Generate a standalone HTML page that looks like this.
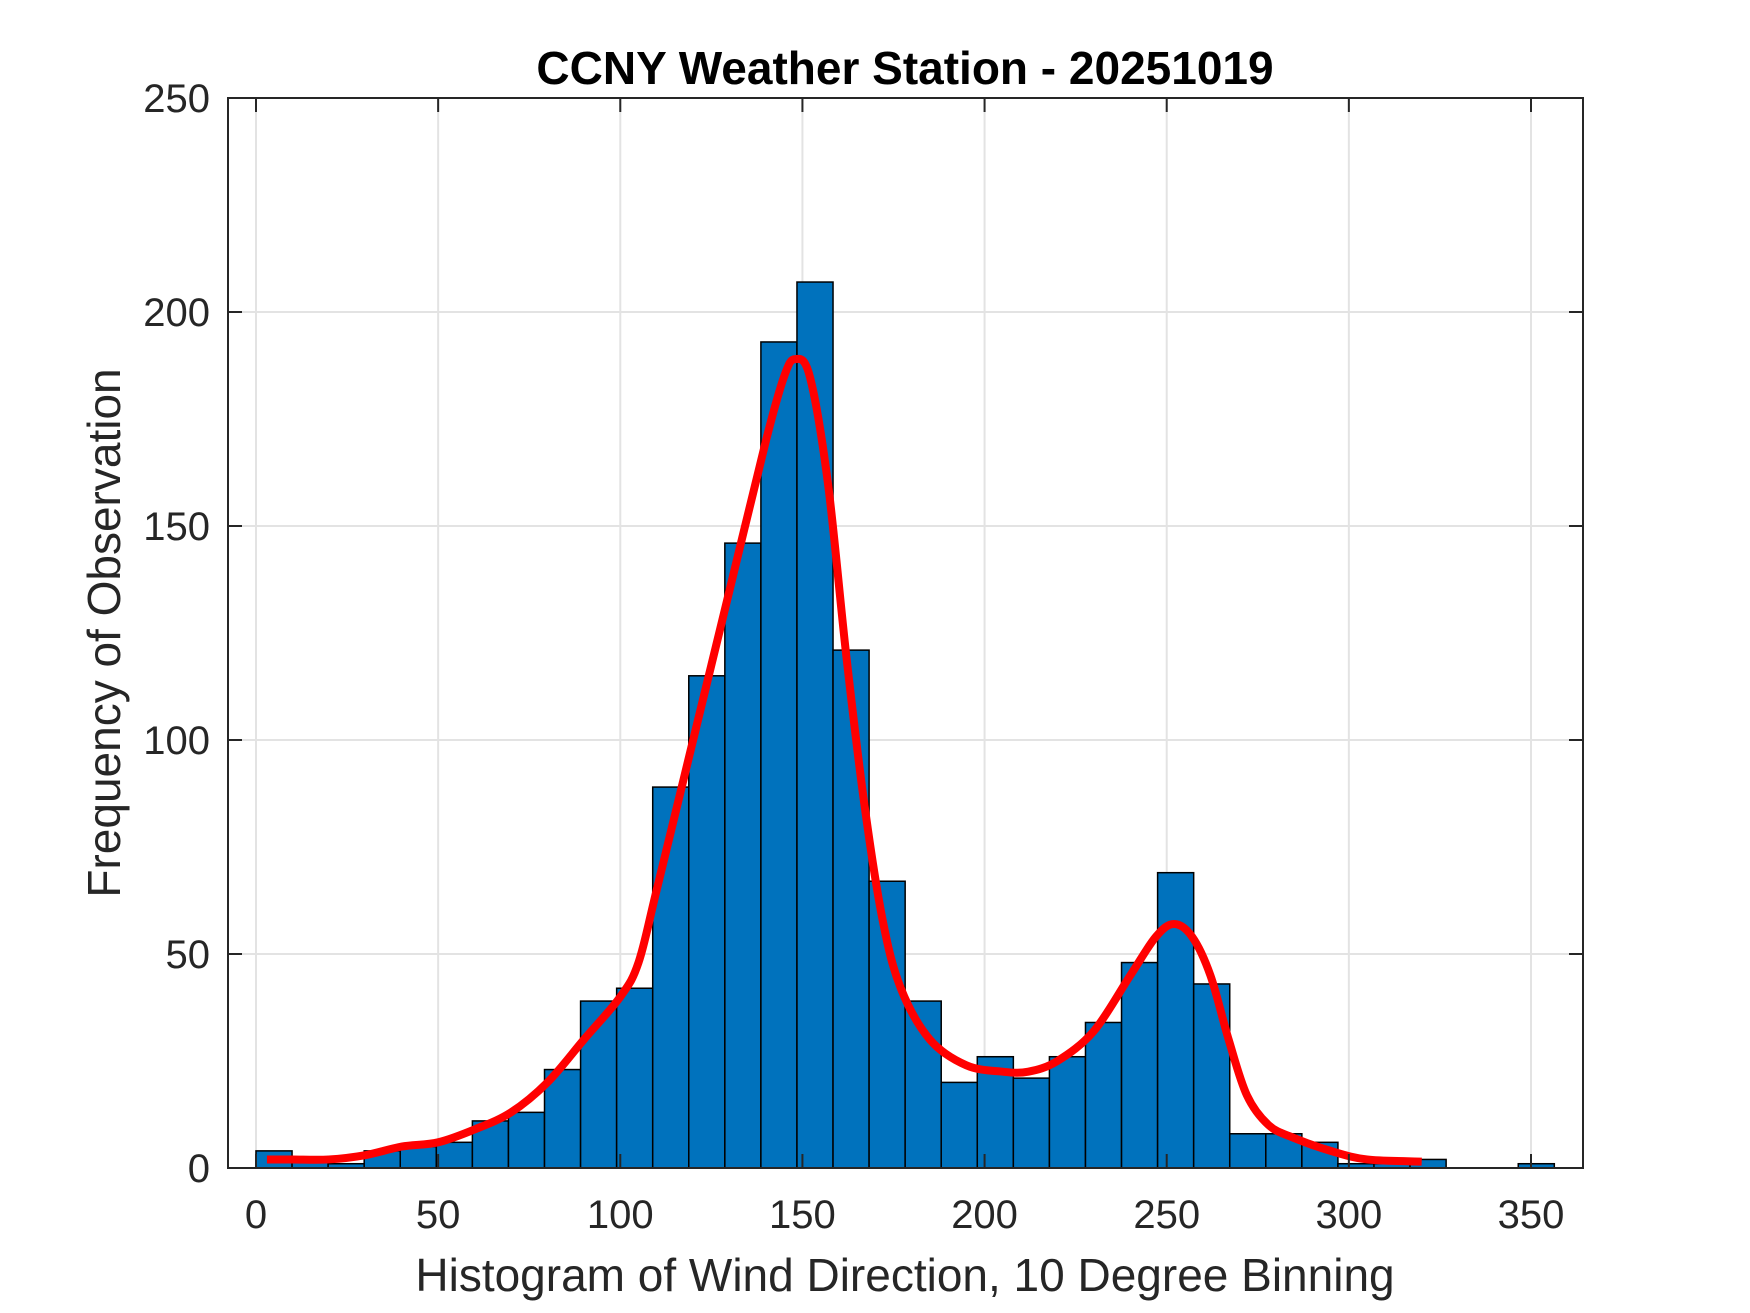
<!DOCTYPE html>
<html><head><meta charset="utf-8"><style>
body{margin:0;background:#fff}
svg{display:block}
text{font-family:"Liberation Sans",Arial,sans-serif;fill:#262626}
</style></head><body>
<svg id="chart" width="1750" height="1313" viewBox="0 0 1750 1313" xmlns="http://www.w3.org/2000/svg">
<rect width="1750" height="1313" fill="#fff"/>
<g id="grid"></g>
<g id="bars"></g>
<path id="curve" fill="none" stroke="#ff0000" stroke-width="8" stroke-linejoin="round" stroke-linecap="butt"/>
<rect x="228" y="98" width="1355" height="1070" fill="none" stroke="#262626" stroke-width="2"/>
<g id="ticks"></g>
<text x="905" y="84" text-anchor="middle" font-size="46" font-weight="bold" style="fill:#000">CCNY Weather Station - 20251019</text>
<text x="905" y="1291" text-anchor="middle" font-size="46">Histogram of Wind Direction, 10 Degree Binning</text>
<text x="120" y="633" text-anchor="middle" font-size="46" transform="rotate(-90 120 633)">Frequency of Observation</text>
</svg>
<script>
const binStarts=[0,9.9,19.8,29.7,39.6,49.5,59.4,69.3,79.2,89.1,99,108.9,118.8,128.7,138.6,148.5,158.4,168.3,178.2,188.1,198,207.9,217.8,227.7,237.6,247.5,257.4,267.3,277.2,287.1,297,306.9,316.8,326.7,336.6,346.5];
const counts=[4,2,1,4,5,6,11,13,23,39,42,89,115,146,193,207,121,67,39,20,26,21,26,34,48,69,43,8,8,6,1,1,2,0,0,1];
const curveX=[3,10,20,30,40,50,60,70,80,90,100,105,110,120,130,140,145,148,152,157,162,167,172,177,185,195,205,212,220,230,240,247,252,257,262,267,272,278,285,295,305,320];
const curveY=[2,2,2,3,5,6,9,13,20,30,40,48,65,100,135,170,185,189,185,160,120,85,58,42,30,24,22.5,22.5,25,32,45,54,57,54,45,30,17,10,7,4,2,1.5];
const xTicks=[0,50,100,150,200,250,300,350];
const yTicks=[0,50,100,150,200,250];
const binWidth=9.9;
const NS='http://www.w3.org/2000/svg';
const X0=228,X1=1583,Y0=1168,Y1=98;
function xs(v){return 256+v*(1531-256)/350;}
function ys(v){return Y0-v*(Y0-Y1)/250;}
function mk(tag,attrs,parent){const e=document.createElementNS(NS,tag);for(const k in attrs)e.setAttribute(k,attrs[k]);parent.appendChild(e);return e;}
const grid=document.getElementById('grid'),bars=document.getElementById('bars'),ticks=document.getElementById('ticks'),svg=document.getElementById('chart');
xTicks.forEach(t=>{
  const g=mk('line',{x1:xs(t),x2:xs(t),y1:Y1,y2:Y0,stroke:'#e3e3e3','stroke-width':2},grid);
  
  
  const a=mk('line',{x1:xs(t),x2:xs(t),y1:Y0,y2:Y0-14,stroke:'#262626','stroke-width':2},ticks);
  
  
  const b=mk('line',{x1:xs(t),x2:xs(t),y1:Y1,y2:Y1+14,stroke:'#262626','stroke-width':2},ticks);
  
  
  const l=mk('text',{x:xs(t),y:1228,'text-anchor':'middle','font-size':40},svg);
  l.textContent=t;
  
  
});
yTicks.forEach(t=>{
  const g=mk('line',{x1:X0,x2:X1,y1:ys(t),y2:ys(t),stroke:'#e3e3e3','stroke-width':2},grid);
  
  
  const a=mk('line',{x1:X0,x2:X0+14,y1:ys(t),y2:ys(t),stroke:'#262626','stroke-width':2},ticks);
  
  
  const b=mk('line',{x1:X1,x2:X1-14,y1:ys(t),y2:ys(t),stroke:'#262626','stroke-width':2},ticks);
  
  
  const l=mk('text',{x:210,y:ys(t)+14,'text-anchor':'end','font-size':40},svg);
  l.textContent=t;
  
  
});
binStarts.forEach((s,i)=>{
  const v=counts[i];if(v<=0)return;
  const r=mk('rect',{x:xs(s),y:ys(v),width:xs(s+binWidth)-xs(s),height:ys(0)-ys(v),fill:'#0072BD',stroke:'#000','stroke-width':1.5},bars);
  
  
});
const pts=curveX.map((x,i)=>[xs(x),ys(curveY[i])]);
let d='M'+pts[0][0]+','+pts[0][1];
for(let i=0;i<pts.length-1;i++){
  const p0=pts[Math.max(0,i-1)],p1=pts[i],p2=pts[i+1],p3=pts[Math.min(pts.length-1,i+2)];
  const c1=[p1[0]+(p2[0]-p0[0])/6,p1[1]+(p2[1]-p0[1])/6];
  const c2=[p2[0]-(p3[0]-p1[0])/6,p2[1]-(p3[1]-p1[1])/6];
  d+=' C'+c1[0]+','+c1[1]+' '+c2[0]+','+c2[1]+' '+p2[0]+','+p2[1];
}
document.getElementById('curve').setAttribute('d',d);
</script>
</body></html>
